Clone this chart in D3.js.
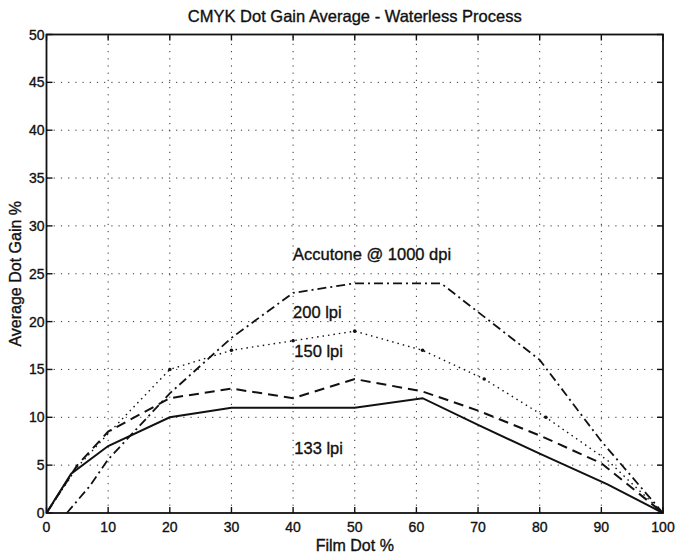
<!doctype html>
<html lang="en">
<head>
  <meta charset="utf-8">
  <title>CMYK Dot Gain Average - Waterless Process</title>
  <style>
    body { margin: 0; background: #fff; }
    svg { display: block; font-family: 'Liberation Sans', Arial, sans-serif; }
    .grid line { stroke: #333; stroke-width: 1; stroke-dasharray: 1.2 6; }
    .frame { fill: none; stroke: #111; stroke-width: 1.8; }
    .tick-mark { stroke: #111; stroke-width: 1.4; }
    .series { fill: none; stroke: #111; }
    text { fill: #111; stroke: #111; stroke-width: 0.35; }
    .tick-label { font-size: 14px; }
    .label { font-size: 16px; }
    .note { font-size: 16.5px; }
  </style>
</head>
<body>
  <div id="chart"></div>
  <script src="https://d3js.org/d3.v7.min.js"></script>
  <script>
    // tick values
    const xTicks = [0, 10, 20, 30, 40, 50, 60, 70, 80, 90, 100];
    const yTicks = [0, 5, 10, 15, 20, 25, 30, 35, 40, 45, 50];

    // series (film dot %, dot gain %)
    const lpi133X = [0, 4, 10, 20, 30, 40, 50, 61, 70, 80, 91, 100];
    const lpi133Y = [0, 4.1, 7, 10, 11, 11, 11, 12, 9.2, 6.2, 3, 0];

    const lpi150X = [0, 5, 10, 20, 30, 40, 50, 61, 70, 80, 90, 100];
    const lpi150Y = [0, 5, 8.5, 12, 13, 12, 14, 12.7, 10.7, 8.1, 5.2, 0];

    const lpi200X = [0, 5, 10, 20, 30, 40, 50, 61, 71, 81, 91, 100];
    const lpi200Y = [0, 4.8, 8.3, 15, 17, 18, 19, 17, 14, 10, 5.5, 0];

    const accutoneX = [3.3, 7, 10, 20, 30, 40, 50, 64, 80, 90, 100];
    const accutoneY = [0, 2.8, 5.6, 12.5, 18.3, 23, 24, 24, 16, 7.5, 0];

    // text labels next to the curves
    const noteText = ['Accutone @ 1000 dpi', '200 lpi', '150 lpi', '133 lpi'];
    const noteX = [40, 40, 40.2, 40.2];
    const noteY = [26.4, 20.35, 16.3, 6.2];

    const width = 681;
    const height = 558;
    const margin = { top: 34.5, right: 18, bottom: 45, left: 46.5 };

    const svg = d3.select('#chart')
      .append('svg')
      .attr('width', width)
      .attr('height', height);

    const x = d3.scaleLinear()
      .domain([0, 100])
      .range([margin.left, width - margin.right]);

    const y = d3.scaleLinear()
      .domain([0, 50])
      .range([height - margin.bottom, margin.top]);

    // dotted grid
    const grid = svg.append('g').attr('class', 'grid');
    grid.selectAll('.gx')
      .data(xTicks.slice(1, -1))
      .join('line')
      .attr('x1', d => x(d)).attr('x2', d => x(d))
      .attr('y1', y(0)).attr('y2', y(50));
    grid.selectAll('.gy')
      .data(yTicks.slice(1, -1))
      .join('line')
      .attr('class', 'gy')
      .attr('x1', x(0)).attr('x2', x(100))
      .attr('y1', d => y(d)).attr('y2', d => y(d));

    // curves
    const line = d3.line()
      .x(d => x(d[0]))
      .y(d => y(d[1]));

    const series = [
      { xs: lpi133X, ys: lpi133Y, width: 2, dash: null },
      { xs: lpi150X, ys: lpi150Y, width: 2, dash: '10 6' },
      { xs: lpi200X, ys: lpi200Y, width: 1.4, dash: '1.5 4' },
      { xs: accutoneX, ys: accutoneY, width: 1.8, dash: '9 4 2 4' }
    ];

    svg.append('g')
      .selectAll('path')
      .data(series)
      .join('path')
      .attr('class', 'series')
      .attr('d', s => line(d3.zip(s.xs, s.ys)))
      .attr('stroke-width', s => s.width)
      .attr('stroke-dasharray', s => s.dash);

    // small markers on the dotted curve
    svg.append('g')
      .selectAll('circle')
      .data(d3.zip(lpi200X, lpi200Y).slice(3, -2))
      .join('circle')
      .attr('cx', d => x(d[0]))
      .attr('cy', d => y(d[1]))
      .attr('r', 1.8)
      .attr('fill', '#111');

    // box and inward ticks (MATLAB style)
    const tickLen = 6;
    svg.append('rect')
      .attr('class', 'frame')
      .attr('x', x(0)).attr('y', y(50))
      .attr('width', x(100) - x(0))
      .attr('height', y(0) - y(50));

    const ticks = svg.append('g');
    xTicks.forEach(t => {
      ticks.append('line').attr('class', 'tick-mark')
        .attr('x1', x(t)).attr('x2', x(t))
        .attr('y1', y(0)).attr('y2', y(0) - tickLen);
      ticks.append('line').attr('class', 'tick-mark')
        .attr('x1', x(t)).attr('x2', x(t))
        .attr('y1', y(50)).attr('y2', y(50) + tickLen);
    });
    yTicks.forEach(t => {
      ticks.append('line').attr('class', 'tick-mark')
        .attr('x1', x(0)).attr('x2', x(0) + tickLen)
        .attr('y1', y(t)).attr('y2', y(t));
      ticks.append('line').attr('class', 'tick-mark')
        .attr('x1', x(100)).attr('x2', x(100) - tickLen)
        .attr('y1', y(t)).attr('y2', y(t));
    });

    // tick labels
    svg.append('g')
      .selectAll('text')
      .data(xTicks)
      .join('text')
      .attr('class', 'tick-label')
      .attr('x', d => x(d))
      .attr('y', y(0) + 19)
      .attr('text-anchor', 'middle')
      .text(d => d);

    svg.append('g')
      .selectAll('text')
      .data(yTicks)
      .join('text')
      .attr('class', 'tick-label')
      .attr('x', x(0) - 2)
      .attr('y', d => y(d) + 5)
      .attr('text-anchor', 'end')
      .text(d => d);

    // title and axis labels
    svg.append('text')
      .attr('class', 'note')
      .attr('x', (x(0) + x(100)) / 2)
      .attr('y', 22)
      .attr('text-anchor', 'middle')
      .text('CMYK Dot Gain Average - Waterless Process');

    svg.append('text')
      .attr('class', 'label')
      .attr('x', (x(0) + x(100)) / 2)
      .attr('y', 551)
      .attr('text-anchor', 'middle')
      .text('Film Dot %');

    svg.append('text')
      .attr('class', 'label')
      .attr('transform', `translate(21,${(y(0) + y(50)) / 2}) rotate(-90)`)
      .attr('text-anchor', 'middle')
      .text('Average Dot Gain %');

    // curve notes
    svg.append('g')
      .selectAll('text')
      .data(noteText)
      .join('text')
      .attr('class', 'note')
      .attr('x', (d, i) => x(noteX[i]))
      .attr('y', (d, i) => y(noteY[i]))
      .text(d => d);
  </script>
</body>
</html>
